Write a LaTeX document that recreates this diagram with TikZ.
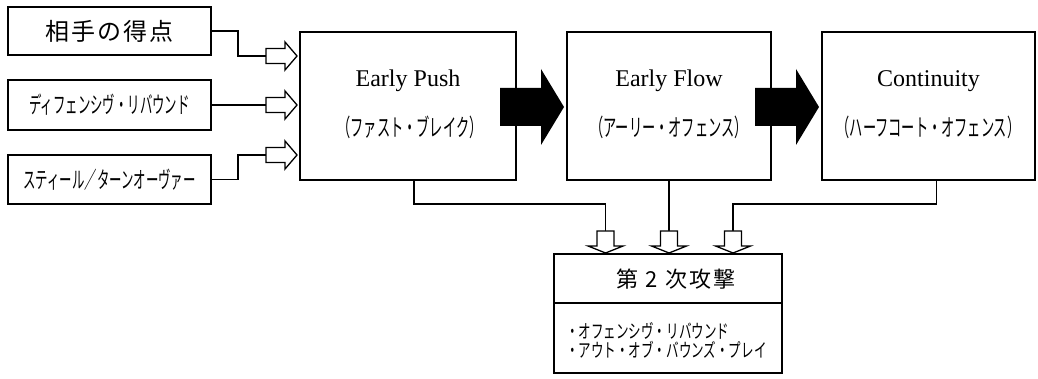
\documentclass[tikz,border=0pt]{standalone}
\usepackage{fontspec}
\usepackage{graphicx}
\setmainfont{Liberation Serif}
\newfontfamily\jp{Noto Sans CJK JP}
\newcommand{\kana}[2][0.55]{\scalebox{#1}[1]{\jp #2}}
\tikzset{
  box/.style={draw, line width=1.6pt, inner sep=0pt, font=\fontsize{23}{24}\selectfont},
  conn/.style={line width=1.4pt},
  entxt/.style={font=\fontsize{24}{26}\selectfont, inner sep=0pt},
  jptxt/.style={font=\fontsize{24}{25}\selectfont, inner sep=0pt},
  itemtxt/.style={font=\fontsize{19}{19}\selectfont, inner sep=0pt, anchor=west},
  hollowR/.pic={\draw[line width=1.3pt, fill=white] (0,-7.5) -- (19,-7.5) -- (19,-14) -- (31,0) -- (19,14) -- (19,7.5) -- (0,7.5) -- cycle;},
  hollowD/.pic={\draw[line width=1.3pt, fill=white] (-8.5,0) -- (-8.5,15) -- (-17.5,15) -- (0,22) -- (17.5,15) -- (8.5,15) -- (8.5,0) -- cycle;},
  bigR/.pic={\fill[black] (0,-19) -- (41,-19) -- (41,-38) -- (64,0) -- (41,38) -- (41,19) -- (0,19) -- cycle;}
}
\begin{document}
\begin{tikzpicture}[x=1pt,y=-1pt]
\useasboundingbox (0,0) rectangle (1038,379);

% left inputs
\node[box, minimum width=203pt, minimum height=48pt] (score) at (109.5,31) {{\jp\fontsize{24}{25}\selectfont\addfontfeature{LetterSpace=8}相手の得点}};
\node[box, minimum width=203pt, minimum height=50pt] (dreb) at (109.5,105) {\kana[0.54]{ディフェンシヴ・リバウンド}};
\node[box, minimum width=203pt, minimum height=49pt] (steal) at (109.5,179.5) {\kana[0.54]{スティール／ターンオーヴァー}};

% main stages
\node[box, minimum width=216pt, minimum height=148pt] (push) at (408,106) {};
\node[box, minimum width=204pt, minimum height=148pt] (flow) at (669,106) {};
\node[box, minimum width=213pt, minimum height=148pt] (cont) at (928.5,106) {};

\node[entxt] (pushen) at (408,81) {Early Push};
\node[jptxt] (pushjp) at (410,127) {\kana{（ファスト・ブレイク）}};
\node[entxt] (flowen) at (669,81) {Early Flow};
\node[jptxt] (flowjp) at (669,127) {\kana{（アーリー・オフェンス）}};
\node[entxt] (conten) at (928.5,81) {Continuity};
\node[jptxt] (contjp) at (928.5,127) {\kana{（ハーフコート・オフェンス）}};

% second attack
\node[box, minimum width=228pt, minimum height=49pt] (sectitle) at (668,278.5) {};
\node[jptxt] (sectxt) at (676,279) {{\jp\fontsize{22}{24}\selectfont\addfontfeature{LetterSpace=10}第 2 次攻撃}};
\node[box, minimum width=228pt, minimum height=70pt] (seclist) at (668,338) {};
\node[itemtxt] (item1) at (566,330.5) {\kana[0.66]{・オフェンシヴ・リバウンド}};
\node[itemtxt] (item2) at (566,349.5) {\kana[0.66]{・アウト・オブ・バウンズ・プレイ}};

% arrow tails
\coordinate (in1) at (266,56);
\coordinate (in2) at (266,105);
\coordinate (in3) at (266,155);
\coordinate (d1) at (605.5,231);
\coordinate (d2) at (669,231);
\coordinate (d3) at (733,231);
\coordinate (bus) at (0,204);

\draw[conn] (score.east) -- ++(26,0) |- (in1);
\draw[conn] (dreb.east) -- (in2);
\draw[conn] (steal.east) -- ++(26,0) |- (in3);

\draw[conn] ([xshift=6pt]push.south) |- (d1 |- bus) -- (d1);
\draw[conn] (flow.south) -- (d2);
\draw[conn] ([xshift=8pt]cont.south) |- (d3 |- bus) -- (d3);

\pic at (in1) {hollowR};
\pic at (in2) {hollowR};
\pic at (in3) {hollowR};
\pic at (d1) {hollowD};
\pic at (d2) {hollowD};
\pic at (d3) {hollowD};
\pic at (500,107) {bigR};
\pic at (755,107) {bigR};
\end{tikzpicture}
\end{document}
